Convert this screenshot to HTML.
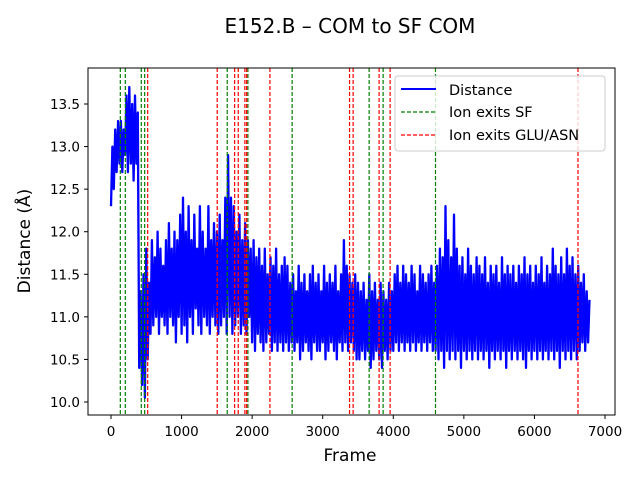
<!DOCTYPE html>
<html><head><meta charset="utf-8"><style>
body{margin:0;background:#fff;}
svg{display:block;font-family:"DejaVu Sans","Liberation Sans",sans-serif;}
</style></head><body>
<svg id="chart" width="640" height="480">
<rect width="640" height="480" fill="#fff"/>
<text x="350" y="33" font-size="20" text-anchor="middle">E152.B – COM to SF COM</text>
<g id="plot"></g>
<rect x="88" y="68" width="527" height="347" fill="none" stroke="#000" stroke-width="1"/>
<text x="350" y="461" font-size="17" text-anchor="middle">Frame</text>
<text transform="translate(30,241) rotate(-90)" font-size="17" text-anchor="middle">Distance (Å)</text>
<g>
<rect x="395" y="76" width="210" height="75" rx="3" fill="#fff" fill-opacity="0.8" stroke="#ccc"/>
<line x1="401" y1="89" x2="436" y2="89" stroke="#0000ff" stroke-width="2"/>
<text x="449" y="95" font-size="14.5">Distance</text>
<line x1="401" y1="112" x2="436" y2="112" stroke="green" stroke-width="1.2" stroke-dasharray="4,2"/>
<text x="449" y="117" font-size="14.5">Ion exits SF</text>
<line x1="401" y1="135" x2="436" y2="135" stroke="red" stroke-width="1.2" stroke-dasharray="4,2"/>
<text x="449" y="140" font-size="14.5">Ion exits GLU/ASN</text>
</g>
</svg>
<script>
const frameStep = 20;
const distanceValues = [
12.3,13.0,12.5,13.2,12.7,13.3,12.8,13.3,12.7,13.2,12.9,13.6,12.7,13.7,12.8,13.5,12.6,13.6,12.8,13.4,
10.4,11.3,10.2,11.5,10.05,11.8,10.5,11.4,10.8,11.9,10.9,11.7,11.0,12.0,10.8,11.8,11.0,11.6,10.9,11.9,10.8,12.1,11.0,11.8,10.9,12.0,10.7,11.9,11.0,12.2,
10.8,12.4,10.9,12.0,10.7,12.3,11.0,11.9,10.8,12.2,11.1,11.8,10.9,12.3,10.8,12.0,11.0,11.8,10.9,12.3,10.8,11.9,11.0,12.1,10.9,
12.0,10.8,12.2,10.9,11.9,11.0,12.4,10.8,12.9,11.0,12.4,10.8,12.3,10.9,12.0,11.0,12.2,10.8,11.9,10.9,12.1,10.8,11.9,11.0,11.8,
10.7,11.9,10.6,11.7,10.8,11.8,10.7,11.6,10.6,11.8,10.7,11.5,10.8,11.7,10.6,11.6,10.7,11.8,10.6,11.5,10.7,11.6,10.6,11.7,10.7,
11.6,10.6,11.4,10.7,11.5,10.6,11.3,10.7,11.6,10.5,11.4,10.6,11.5,10.7,11.3,10.6,11.5,10.5,11.6,10.7,11.4,10.6,11.5,10.6,11.3,10.7,11.6,10.5,11.4,10.6,11.5,10.7,11.4,10.6,11.6,10.5,11.3,10.7,11.5,10.6,
11.9,10.7,11.6,10.6,11.5,10.7,11.4,10.6,11.5,10.5,
11.4,10.5,11.3,10.6,11.4,10.5,11.2,10.6,11.5,10.4,11.3,10.5,11.4,10.6,11.2,10.5,11.4,10.4,11.3,10.6,11.2,10.5,11.4,10.6,11.3,
10.6,11.5,10.7,11.6,10.6,11.4,10.7,11.6,10.6,11.5,10.7,11.4,10.6,11.6,10.7,11.5,10.6,11.3,10.7,11.6,10.6,11.5,10.7,11.4,10.6,11.5,10.7,11.6,10.6,11.4,
10.6,11.6,10.5,11.8,10.6,11.7,10.4,12.3,10.6,11.9,10.5,11.7,10.6,12.2,10.5,11.8,10.6,11.6,10.4,11.7,10.6,11.5,10.5,11.8,10.6,11.6,10.5,11.5,10.6,11.7,
10.5,11.6,10.6,11.5,10.5,11.7,10.6,11.4,10.4,11.6,
10.6,11.5,10.5,11.6,10.6,11.4,10.5,11.7,10.6,11.5,
10.4,11.6,10.6,11.5,10.5,11.6,10.6,11.4,10.5,11.6,
10.6,11.5,10.5,11.7,10.4,11.5,10.6,11.6,10.5,11.4,
10.6,11.6,10.5,11.5,10.6,11.7,10.5,11.4,10.6,11.6,
10.5,11.5,10.6,11.8,10.5,11.6,10.6,11.5,10.4,11.7,
10.6,11.5,10.5,11.8,10.6,11.6,10.5,11.7,10.6,11.5,
10.5,11.6,10.6,11.4,10.7,11.5,10.6,11.3,10.7,11.2];
const sfExits = [132,203,429,477,1647,1940,2567,3658,3856,4598];
const gluExits = [520,1505,1752,1803,1897,1922,2252,3380,3431,3799,3955,6617];
const xTicks = [0,1000,2000,3000,4000,5000,6000,7000];
const yTicks = [10.0,10.5,11.0,11.5,12.0,12.5,13.0,13.5];

const NS = "http://www.w3.org/2000/svg";
const plot = document.getElementById('plot');
const xs = f => 111 + f * (605 - 111) / 7000;
const ys = v => 402 - (v - 10) * (402 - 104) / 3.5;
function mk(tag, attrs, parent) {
  const e = document.createElementNS(NS, tag);
  for (const k in attrs) e.setAttribute(k, attrs[k]);
  (parent || plot).appendChild(e);
  return e;
}
let d = '';
distanceValues.forEach((v, i) => { d += (i ? 'L' : 'M') + xs(i * frameStep).toFixed(1) + ',' + ys(v).toFixed(1); });
const line = mk('path', {d: d, fill: 'none', stroke: '#0000ff', 'stroke-width': 2.3, 'stroke-linejoin': 'round'});


sfExits.forEach(f => {
  const l = mk('line', {x1: xs(f), x2: xs(f), y1: 68, y2: 415, stroke: 'green', 'stroke-width': 1.2, 'stroke-dasharray': '4,2'});
  
  
});
gluExits.forEach(f => {
  const l = mk('line', {x1: xs(f), x2: xs(f), y1: 68, y2: 415, stroke: 'red', 'stroke-width': 1.2, 'stroke-dasharray': '4,2'});
  
  
});
xTicks.forEach(t => {
  const x = xs(t);
  const tk = mk('line', {x1: x, x2: x, y1: 415, y2: 419, stroke: '#000'});
  
  
  const tx = mk('text', {x: x, y: 436, 'font-size': 13.5, 'text-anchor': 'middle'});
  tx.textContent = t;
  
  
});
yTicks.forEach(t => {
  const y = ys(t);
  const tk = mk('line', {x1: 84, x2: 88, y1: y, y2: y, stroke: '#000'});
  
  
  const tx = mk('text', {x: 80, y: y + 5, 'font-size': 13.5, 'text-anchor': 'end'});
  tx.textContent = t.toFixed(1);
  
  
});
</script>
</body></html>
